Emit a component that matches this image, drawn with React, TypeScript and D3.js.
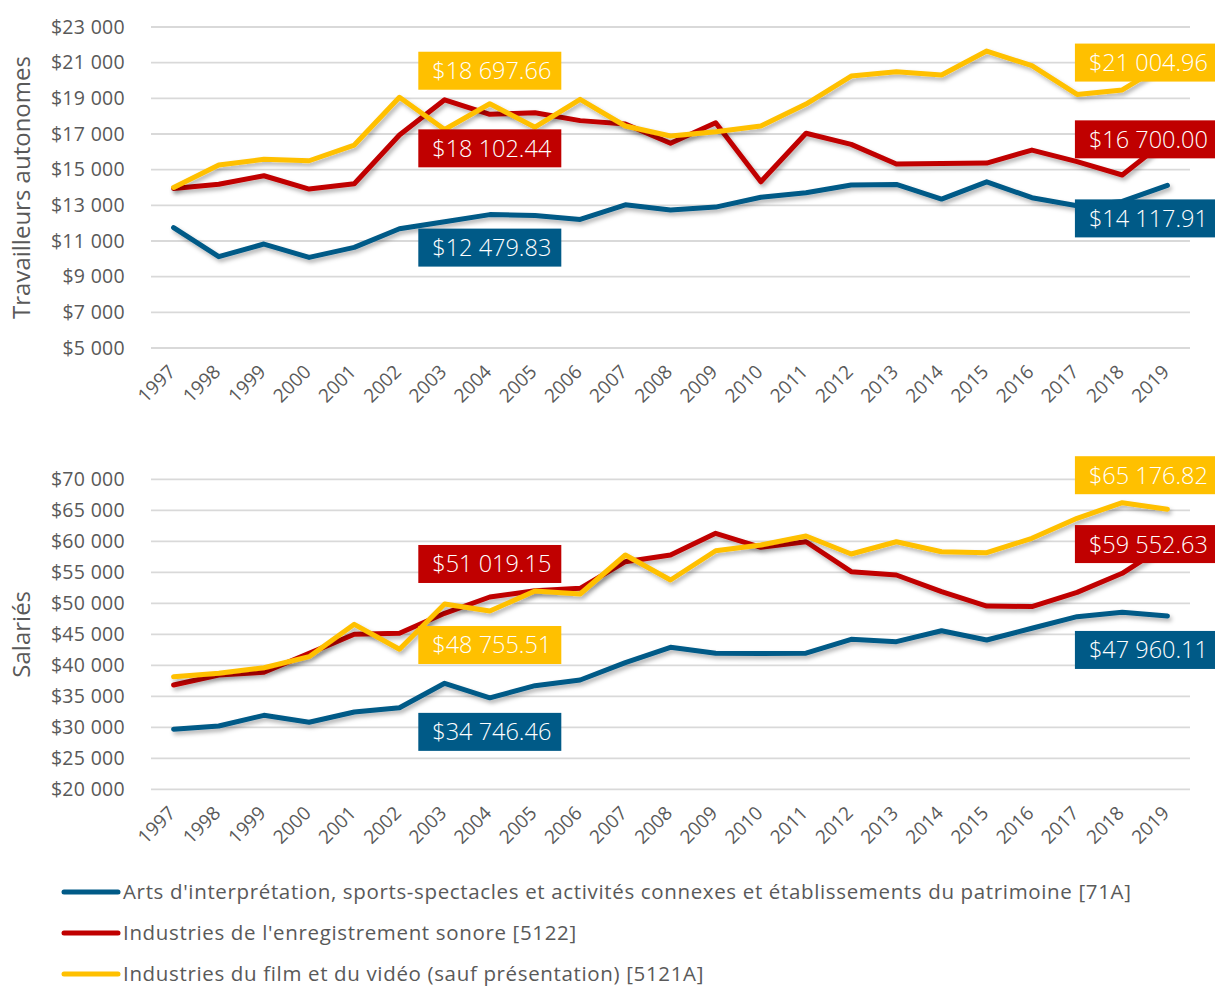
import React from 'react';
import * as d3 from 'd3';

const years = ['1997', '1998', '1999', '2000', '2001', '2002', '2003', '2004', '2005', '2006', '2007', '2008',
  '2009', '2010', '2011', '2012', '2013', '2014', '2015', '2016', '2017', '2018', '2019'];

// Travailleurs autonomes
const selfArts = [11750, 10120, 10830, 10080, 10640, 11690, 12080, 12479.83, 12430, 12210, 13030, 12740,
  12900, 13450, 13710, 14140, 14170, 13350, 14320, 13430, 12980, 13220, 14117.91];
const selfSound = [13950, 14180, 14660, 13910, 14210, 16940, 18920, 18102.44, 18190, 17750, 17560, 16480,
  17630, 14320, 17040, 16420, 15320, 15350, 15370, 16100, 15450, 14700, 16700.0];
const selfFilm = [14000, 15260, 15580, 15500, 16380, 19060, 17250, 18697.66, 17380, 18940, 17450, 16890,
  17130, 17450, 18680, 20250, 20490, 20310, 21650, 20830, 19220, 19470, 21004.96];

// Salariés
const empArts = [29700, 30210, 31930, 30810, 32470, 33160, 37100, 34746.46, 36710, 37630, 40420, 42900,
  41930, 41900, 41950, 44190, 43810, 45580, 44080, 45970, 47840, 48550, 47960.11];
const empSound = [36820, 38430, 38870, 41930, 45000, 45160, 48390, 51019.15, 52030, 52420, 56710, 57790,
  61290, 59030, 59930, 55100, 54560, 51870, 49560, 49480, 51770, 54840, 59552.63];
const empFilm = [38160, 38710, 39610, 41390, 46610, 42580, 49900, 48755.51, 51980, 51500, 57790, 53760,
  58480, 59400, 60850, 57950, 59930, 58320, 58160, 60480, 63710, 66230, 65176.82];

const selfTicks = [5000, 7000, 9000, 11000, 13000, 15000, 17000, 19000, 21000, 23000];
const empTicks = [20000, 25000, 30000, 35000, 40000, 45000, 50000, 55000, 60000, 65000, 70000];

const seriesNames = [
  "Arts d'interprétation, sports-spectacles et activités connexes et établissements du patrimoine [71A]",
  "Industries de l'enregistrement sonore [5122]",
  'Industries du film et du vidéo (sauf présentation) [5121A]',
];
const colors = ['#005A87', '#C00000', '#FFC000'];

const W = 1215;
const H = 986;
const FONT = "'Open Sans', sans-serif";
const GRAY = '#595959';

const loc = d3.formatLocale({ decimal: '.', thousands: ' ', grouping: [3], currency: ['$', ''] });
const tickFmt = loc.format('$,.0f');
const valFmt = loc.format('$,.2f');

const x = d3.scaleBand<string>().domain(years).range([151, 1190]);
const cx = (yr: string) => (x(yr) as number) + x.bandwidth() / 2;

interface PanelProps {
  title: string;
  top: number;
  bottom: number;
  ticks: number[];
  series: number[][];
  // which point gets a label, and where the box sits relative to it
  labels: { s: number; year: string; dy: number; dx: number }[];
}

const Panel = ({ title, top, bottom, ticks, series, labels }: PanelProps) => {
  const y = d3.scaleLinear().domain([ticks[0], ticks[ticks.length - 1]]).range([bottom, top]);
  const line = d3.line<number>().x((_, i) => cx(years[i])).y(d => y(d));

  return (
    <g>
      {ticks.map(t => (
        <g key={t}>
          <line x1={151} x2={1190} y1={y(t)} y2={y(t)} stroke="#d9d9d9" strokeWidth={1.8} />
          <text x={125} y={y(t)} dy="0.35em" textAnchor="end" fontSize={19.5} letterSpacing={0.3}
            fill={GRAY}>{tickFmt(t)}</text>
        </g>
      ))}
      {years.map(yr => (
        <text key={yr} transform={`translate(${cx(yr) + 3},${bottom + 25}) rotate(-45)`} textAnchor="end"
          fontSize={19} fill={GRAY}>{yr}</text>
      ))}
      <text transform={`translate(30,${(top + bottom) / 2}) rotate(-90)`} textAnchor="middle"
        fontSize={24} fill={GRAY}>{title}</text>
      {series.map((vals, i) => (
        <path key={i} d={line(vals) as string} fill="none" stroke={colors[i]} strokeWidth={5}
          strokeLinejoin="round" strokeLinecap="round" filter="url(#shadow)" />
      ))}
      {labels.map((l, k) => {
        const i = years.indexOf(l.year);
        const px = cx(l.year) + l.dx;
        const py = y(series[l.s][i]) + l.dy;
        return (
          <g key={k}>
            <rect x={px - 71.5} y={py - 19} width={143} height={38} fill={colors[l.s]} />
            <text x={px + 2} y={py} dy="0.36em" textAnchor="middle" fontSize={23.5} fontWeight={300}
              fill="#fff">
              {valFmt(series[l.s][i])}
            </text>
          </g>
        );
      })}
    </g>
  );
};

export default function App() {
  return (
    <svg width={W} height={H} style={{ position: 'absolute', left: 0, top: 0, background: '#fff' }}
      fontFamily={FONT}>
      <defs>
        <filter id="shadow" x="-5%" y="-20%" width="110%" height="140%">
          <feDropShadow dx={2} dy={3} stdDeviation={2} floodColor="#000" floodOpacity={0.3} />
        </filter>
      </defs>
      <Panel title="Travailleurs autonomes" top={27} bottom={348} ticks={selfTicks}
        series={[selfArts, selfSound, selfFilm]}
        labels={[
          { s: 2, year: '2004', dy: -33, dx: 0 },
          { s: 1, year: '2004', dy: 34, dx: 0 },
          { s: 0, year: '2004', dy: 33, dx: 0 },
          { s: 2, year: '2019', dy: 0, dx: -21 },
          { s: 1, year: '2019', dy: 0, dx: -21 },
          { s: 0, year: '2019', dy: 33, dx: -21 },
        ]} />
      <Panel title="Salariés" top={479.3} bottom={789.3} ticks={empTicks}
        series={[empArts, empSound, empFilm]}
        labels={[
          { s: 1, year: '2004', dy: -33, dx: 0 },
          { s: 2, year: '2004', dy: 34, dx: 0 },
          { s: 0, year: '2004', dy: 34, dx: 0 },
          { s: 2, year: '2019', dy: -34, dx: -21 },
          { s: 1, year: '2019', dy: 0, dx: -21 },
          { s: 0, year: '2019', dy: 34, dx: -21 },
        ]} />
      {seriesNames.map((name, i) => (
        <g key={name} transform={`translate(0,${892 + i * 41})`}>
          <line x1={64} x2={118} y1={0} y2={0} stroke={colors[i]} strokeWidth={5} strokeLinecap="round" />
          <text x={123} y={0} dy="0.35em" fontSize={20.5} letterSpacing={0.65} fill={GRAY}>{name}</text>
        </g>
      ))}
    </svg>
  );
}
